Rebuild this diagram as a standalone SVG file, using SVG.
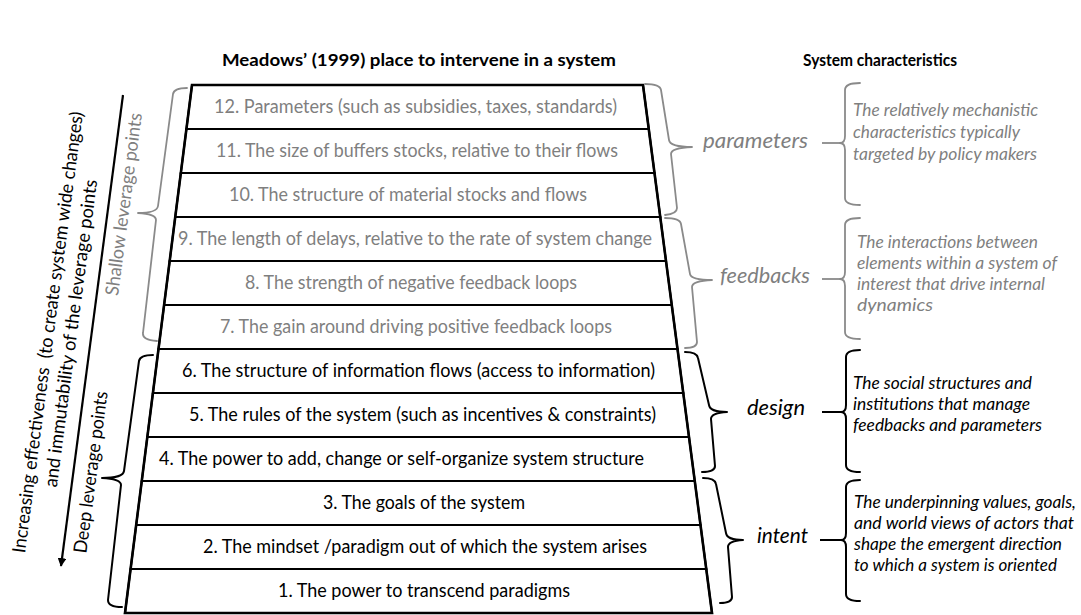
<svg xmlns="http://www.w3.org/2000/svg" width="1081" height="615" viewBox="0 0 1081 615">
  <style>
    .bg { fill: #ffffff; }
    .row { fill: #ffffff; stroke: #000000; stroke-width: 2; stroke-linejoin: miter; }
    .outline { fill: none; stroke: #000000; stroke-width: 2.6; stroke-linejoin: miter; }
    .lbl { font-family: Lato, "Liberation Sans", sans-serif; font-size: 18.5px; text-anchor: middle; }
    .grey { fill: #7f7f7f; }
    .dark { fill: #000000; }
    .head { font-family: Lato, "Liberation Sans", sans-serif; font-size: 17px; font-weight: bold; fill: #000000; }
    .cat { font-family: Lato, "Liberation Sans", sans-serif; font-size: 22px; font-style: italic; }
    .desc { font-family: Lato, "Liberation Sans", sans-serif; font-size: 16.5px; font-style: italic; }
    .side { font-family: Lato, "Liberation Sans", sans-serif; font-size: 18.5px; text-anchor: middle; }
    .brace-g { fill: none; stroke: #8a8a8a; stroke-width: 1.8; stroke-linecap: round; stroke-linejoin: round; }
    .brace-k { fill: none; stroke: #000000; stroke-width: 2; stroke-linecap: round; stroke-linejoin: round; }
    .link-g { fill: none; stroke: #8a8a8a; stroke-width: 1.8; }
    .link-k { fill: none; stroke: #000000; stroke-width: 2; }
    .arrow { fill: none; stroke: #000000; stroke-width: 2.2; }
  </style>
  <defs>
    <marker id="arrowhead" viewBox="0 0 10 10" refX="9" refY="5" markerWidth="4" markerHeight="4" orient="auto" markerUnits="strokeWidth">
      <path d="M0,0 L10,5 L0,10 z" fill="#000000"/>
    </marker>
  </defs>

  <rect class="bg" x="0" y="0" width="1081" height="615"/>

  <!-- column headings -->
  <g id="headings">
    <text class="head" x="222" y="66" textLength="394" lengthAdjust="spacingAndGlyphs">Meadows’ (1999) place to intervene in a system</text>
    <text class="head" x="803" y="66" textLength="154" lengthAdjust="spacingAndGlyphs">System characteristics</text>
  </g>

  <!-- the twelve leverage points, stacked as a widening ladder -->
  <g id="lp12"><polygon class="row" points="192,85 643,85 648.8,129 186.4,129"/><text class="lbl grey" x="415.5" y="113" textLength="403" lengthAdjust="spacingAndGlyphs">12. Parameters (such as subsidies, taxes, standards)</text></g>
  <g id="lp11"><polygon class="row" points="186.4,129 648.8,129 654.5,173 180.8,173"/><text class="lbl grey" x="417" y="157" textLength="402" lengthAdjust="spacingAndGlyphs">11. The size of buffers stocks, relative to their flows</text></g>
  <g id="lp10"><polygon class="row" points="180.8,173 654.5,173 660.3,217 175.2,217"/><text class="lbl grey" x="408" y="201" textLength="358" lengthAdjust="spacingAndGlyphs">10. The structure of material stocks and flows</text></g>
  <g id="lp9"><polygon class="row" points="175.2,217 660.3,217 666,261 169.7,261"/><text class="lbl grey" x="415" y="245" textLength="474" lengthAdjust="spacingAndGlyphs">9. The length of delays, relative to the rate of system change</text></g>
  <g id="lp8"><polygon class="row" points="169.7,261 666,261 671.8,305 164.1,305"/><text class="lbl grey" x="411" y="289" textLength="332" lengthAdjust="spacingAndGlyphs">8. The strength of negative feedback loops</text></g>
  <g id="lp7"><polygon class="row" points="164.1,305 671.8,305 677.5,349 158.5,349"/><text class="lbl grey" x="416" y="333" textLength="392" lengthAdjust="spacingAndGlyphs">7. The gain around driving positive feedback loops</text></g>
  <g id="lp6"><polygon class="row" points="158.5,349 677.5,349 683.3,393 152.9,393"/><text class="lbl dark" x="418.5" y="377" textLength="473" lengthAdjust="spacingAndGlyphs">6. The structure of information flows (access to information)</text></g>
  <g id="lp5"><polygon class="row" points="152.9,393 683.3,393 689,437 147.3,437"/><text class="lbl dark" x="422.5" y="421" textLength="467" lengthAdjust="spacingAndGlyphs">5. The rules of the system (such as incentives &amp; constraints)</text></g>
  <g id="lp4"><polygon class="row" points="147.3,437 689,437 694.8,481 141.8,481"/><text class="lbl dark" x="401.5" y="465" textLength="485" lengthAdjust="spacingAndGlyphs">4. The power to add, change or self-organize system structure</text></g>
  <g id="lp3"><polygon class="row" points="141.8,481 694.8,481 700.5,525 136.2,525"/><text class="lbl dark" x="424" y="509" textLength="202" lengthAdjust="spacingAndGlyphs">3. The goals of the system</text></g>
  <g id="lp2"><polygon class="row" points="136.2,525 700.5,525 706.3,569 130.6,569"/><text class="lbl dark" x="425" y="553" textLength="444" lengthAdjust="spacingAndGlyphs">2. The mindset /paradigm out of which the system arises</text></g>
  <g id="lp1"><polygon class="row" points="130.6,569 706.3,569 712,613 125,613"/><text class="lbl dark" x="424" y="597" textLength="292" lengthAdjust="spacingAndGlyphs">1. The power to transcend paradigms</text></g>
  <polygon class="outline" points="192,85 643,85 712,613 125,613"/>

  <!-- left-hand grouping: shallow vs deep leverage -->
  <g id="shallow">
    <path class="brace-g" d="M187,88 Q174,88 173,94 L158,206 Q157,213 138,213 Q156,214 156,220 L143,333 Q142,340 157,341"/>
    <text class="side grey" transform="translate(130,205) rotate(-82.5)" textLength="184" lengthAdjust="spacingAndGlyphs">Shallow leverage points</text>
  </g>
  <g id="deep">
    <path class="brace-k" d="M153,355 Q140,355 139,361 L124,471 Q123,478 102,478 Q121,479 121,485 L108,600 Q108,607 122,607"/>
    <text class="side dark" transform="translate(97,473) rotate(-82.5)" textLength="163" lengthAdjust="spacingAndGlyphs">Deep leverage points</text>
  </g>
  <g id="effectiveness">
    <text class="side dark" xml:space="preserve" transform="translate(54,333) rotate(-82.5)" textLength="445" lengthAdjust="spacingAndGlyphs">Increasing effectiveness  (to create system wide changes)</text>
    <text class="side dark" transform="translate(77,334) rotate(-82.5)" textLength="310" lengthAdjust="spacingAndGlyphs">and immutability of the leverage points</text>
  </g>

  <!-- right-hand grouping: four system characteristics -->
  <g id="parameters">
    <path class="brace-g" d="M645,84 Q660,84 661,90 L669,140 Q670,147 692,147 Q671,148 671,154 L677,208 Q677,214 665,215"/>
    <text class="cat grey" x="703" y="148" textLength="105" lengthAdjust="spacingAndGlyphs">parameters</text>
    <path class="brace-g" d="M860,83 Q845,83 845,90 L845,136 Q845,143 840,143 Q845,143 845,150 L845,198 Q845,205 860,205"/>
    <text class="desc grey" x="853" y="116" textLength="185" lengthAdjust="spacingAndGlyphs">The relatively mechanistic</text>
    <text class="desc grey" x="853" y="138" textLength="167" lengthAdjust="spacingAndGlyphs">characteristics typically</text>
    <text class="desc grey" x="853" y="160" textLength="184" lengthAdjust="spacingAndGlyphs">targeted by policy makers</text>
  </g>
  <g id="feedbacks">
    <path class="brace-g" d="M665,218 Q680,218 681,224 L690,274 Q691,280 712,280 Q692,281 692,287 L697,342 Q697,348 685,348"/>
    <text class="cat grey" x="720" y="283" textLength="90" lengthAdjust="spacingAndGlyphs">feedbacks</text>
    <path class="brace-g" d="M860,218 Q845,218 845,225 L845,272 Q845,279 840,279 Q845,279 845,286 L845,332 Q845,339 860,339"/>
    <text class="desc grey" x="857" y="248" textLength="181" lengthAdjust="spacingAndGlyphs">The interactions between</text>
    <text class="desc grey" x="857" y="269" textLength="200" lengthAdjust="spacingAndGlyphs">elements within a system of</text>
    <text class="desc grey" x="857" y="290" textLength="188" lengthAdjust="spacingAndGlyphs">interest that drive internal</text>
    <text class="desc grey" x="857" y="311" textLength="76" lengthAdjust="spacingAndGlyphs">dynamics</text>
  </g>
  <g id="design">
    <path class="brace-k" d="M685,352 Q697,352 698,358 L709,405 Q710,412 727,412 Q711,413 711,419 L715,466 Q715,472 702,472"/>
    <text class="cat dark" x="747" y="415" textLength="58" lengthAdjust="spacingAndGlyphs">design</text>
    <path class="brace-k" d="M860,350 Q846,350 846,357 L846,405 Q846,412 841,412 Q846,412 846,419 L846,465 Q846,472 860,472"/>
    <text class="desc dark" x="853" y="389" textLength="179" lengthAdjust="spacingAndGlyphs">The social structures and</text>
    <text class="desc dark" x="853" y="410" textLength="177" lengthAdjust="spacingAndGlyphs">institutions that manage</text>
    <text class="desc dark" x="853" y="431" textLength="189" lengthAdjust="spacingAndGlyphs">feedbacks and parameters</text>
  </g>
  <g id="intent">
    <path class="brace-k" d="M703,478 Q715,478 716,484 L726,533 Q727,540 743,540 Q728,541 728,547 L732,597 Q732,603 720,603"/>
    <text class="cat dark" x="757" y="543" textLength="51" lengthAdjust="spacingAndGlyphs">intent</text>
    <path class="brace-k" d="M860,480 Q846,480 846,487 L846,533 Q846,540 841,540 Q846,540 846,547 L846,594 Q846,601 860,601"/>
    <text class="desc dark" x="854" y="508" textLength="222" lengthAdjust="spacingAndGlyphs">The underpinning values, goals,</text>
    <text class="desc dark" x="854" y="529" textLength="220" lengthAdjust="spacingAndGlyphs">and world views of actors that</text>
    <text class="desc dark" x="854" y="550" textLength="208" lengthAdjust="spacingAndGlyphs">shape the emergent direction</text>
    <text class="desc dark" x="854" y="571" textLength="203" lengthAdjust="spacingAndGlyphs">to which a system is oriented</text>
  </g>

  <!-- connectors: direction arrow and label-to-brace ticks -->
  <g id="connectors">
    <line class="arrow" x1="123" y1="95" x2="61" y2="566" marker-end="url(#arrowhead)"/>
    <line class="link-g" x1="822" y1="143" x2="841" y2="143"/>
    <line class="link-g" x1="822" y1="279" x2="841" y2="279"/>
    <line class="link-k" x1="822" y1="412" x2="842" y2="412"/>
    <line class="link-k" x1="820" y1="540" x2="842" y2="540"/>
  </g>
</svg>
